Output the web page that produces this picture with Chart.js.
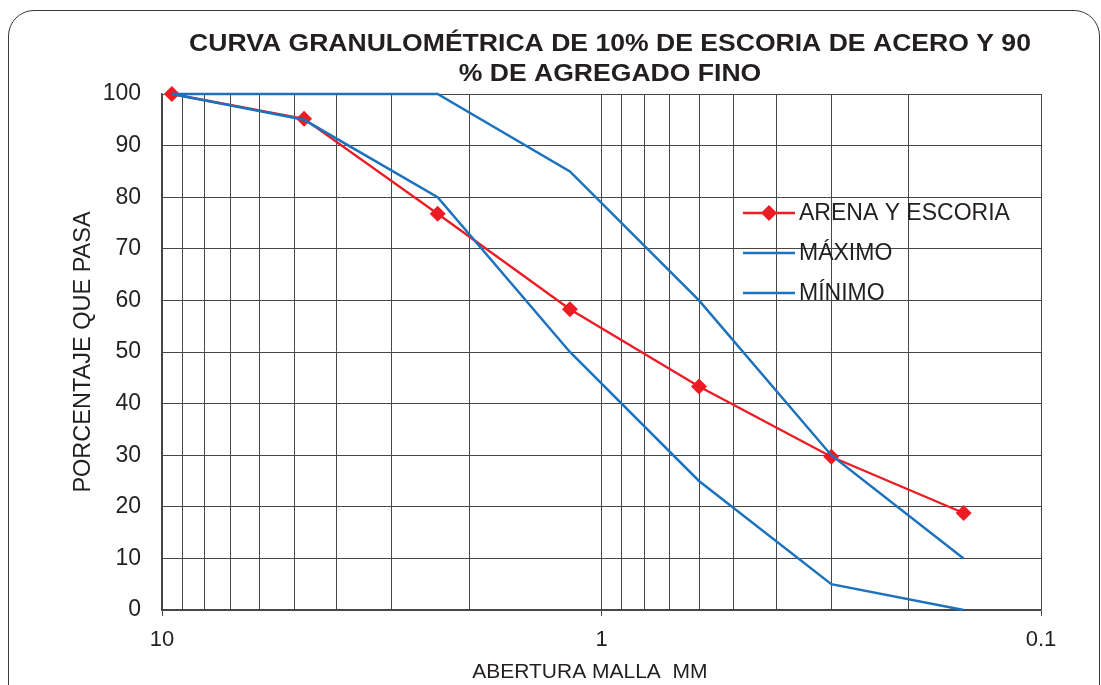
<!DOCTYPE html>
<html lang="es">
<head>
<meta charset="utf-8">
<title>Curva granulométrica</title>
<script src="https://cdn.jsdelivr.net/npm/chart.js@4.4.1/dist/chart.umd.min.js"></script>
<style>
  html, body { margin: 0; padding: 0; background: #fff; overflow: hidden; }
  #wrap { position: relative; width: 1101px; height: 685px; }
  #frame {
    position: absolute; left: 8px; top: 10px; width: 1092px; height: 720px;
    border: 1.3px solid #3a3a3a; border-radius: 26px; box-sizing: border-box;
    pointer-events: none;
  }
  canvas { position: absolute; left: 0; top: 0; }
</style>
</head>
<body>
<div id="wrap">
  <div id="frame"></div>
  <canvas id="chart" width="1101" height="685"></canvas>
</div>
<script>
// Sieve openings (mm) and percent passing for each curve
const sieveSizes   = [9.5, 4.75, 2.36, 1.18, 0.6, 0.3, 0.15];
const arenaEscoria = [100, 95.2, 76.8, 58.3, 43.3, 29.7, 18.8];
const maximo       = [100, 100, 100, 85, 60, 30, 10];
const minimo       = [100, 95, 80, 50, 25, 5, 0];

// Axis ticks
const xMajorTicks = [10, 1, 0.1];
const xMinorMultipliers = [2, 3, 4, 5, 6, 7, 8, 9];
const yTicks = [0, 10, 20, 30, 40, 50, 60, 70, 80, 90, 100];

const titleLines = ['CURVA GRANULOMÉTRICA DE 10% DE ESCORIA DE ACERO Y 90', '% DE AGREGADO FINO'];
const seriesNames = ['ARENA Y ESCORIA', 'MÁXIMO', 'MÍNIMO'];

const FONT = '"Liberation Sans", Arial, Helvetica, sans-serif';
const RED = '#ec1c24';
const BLUE = '#1c72bc';
const GRID = '#474747';

const toPoints = vals => sieveSizes.map((s, i) => ({ x: s, y: vals[i] }));

// Full set of log gridline positions between 0.1 and 10
const xTickValues = [];
[0.1, 1].forEach(base => {
  xTickValues.push(base);
  xMinorMultipliers.forEach(m => xTickValues.push(+(base * m).toFixed(3)));
});
xTickValues.push(10);

const titlePlugin = {
  id: 'chartTitle',
  afterDraw(chart) {
    const ctx = chart.ctx;
    ctx.save();
    ctx.fillStyle = '#231f20';
    ctx.font = 'bold 23px ' + FONT;
    ctx.textAlign = 'center';
    ctx.textBaseline = 'middle';
    const cx = 610, ys = [45, 75], sx = 1.155;
    titleLines.forEach((t, i) => {
      ctx.save();
      ctx.translate(cx, ys[i]);
      ctx.scale(sx, 1);
      ctx.fillText(t, 0, 0);
      ctx.restore();
    });
    ctx.restore();
  }
};

const legendPlugin = {
  id: 'insideLegend',
  afterDraw(chart) {
    const ctx = chart.ctx;
    const x0 = 743, x1 = 795, ys = [213, 253, 293];
    ctx.save();
    ctx.font = '23px ' + FONT;
    ctx.textBaseline = 'middle';
    chart.data.datasets.forEach((ds, i) => {
      const y = ys[i];
      ctx.strokeStyle = ds.borderColor;
      ctx.lineWidth = ds.borderWidth;
      ctx.beginPath();
      ctx.moveTo(x0, y);
      ctx.lineTo(x1, y);
      ctx.stroke();
      if (ds.pointRadius > 0) {
        const r = ds.pointRadius, cx = (x0 + x1) / 2;
        ctx.fillStyle = ds.pointBackgroundColor;
        ctx.beginPath();
        ctx.moveTo(cx, y - r);
        ctx.lineTo(cx + r, y);
        ctx.lineTo(cx, y + r);
        ctx.lineTo(cx - r, y);
        ctx.closePath();
        ctx.fill();
      }
      ctx.fillStyle = '#231f20';
      ctx.fillText(ds.label, 799, y + 1);
    });
    ctx.restore();
  }
};

new Chart(document.getElementById('chart'), {
  type: 'line',
  data: {
    datasets: [
      {
        label: seriesNames[0],
        data: toPoints(arenaEscoria),
        borderColor: RED,
        backgroundColor: RED,
        pointBackgroundColor: RED,
        pointBorderColor: RED,
        borderWidth: 2.4,
        pointStyle: 'rectRot',
        pointRadius: 8,
        pointBorderWidth: 0,
        tension: 0,
        clip: false,
        order: 2
      },
      {
        label: seriesNames[1],
        data: toPoints(maximo),
        borderColor: BLUE,
        backgroundColor: BLUE,
        borderWidth: 2.5,
        pointRadius: 0,
        tension: 0,
        clip: false,
        order: 1
      },
      {
        label: seriesNames[2],
        data: toPoints(minimo),
        borderColor: BLUE,
        backgroundColor: BLUE,
        borderWidth: 2.5,
        pointRadius: 0,
        tension: 0,
        clip: false,
        order: 1
      }
    ]
  },
  options: {
    responsive: false,
    animation: false,
    events: [],
    layout: { padding: { left: 69, right: 60, top: 94, bottom: 0 } },
    plugins: {
      legend: { display: false },
      title: { display: false },
      tooltip: { enabled: false }
    },
    scales: {
      x: {
        type: 'logarithmic',
        reverse: true,
        min: 0.1,
        max: 10,
        afterBuildTicks(scale) {
          scale.ticks = xTickValues.map(v => ({ value: v, major: xMajorTicks.includes(v) }));
        },
        afterFit(scale) { scale.height = 75; },
        ticks: {
          autoSkip: false,
          maxRotation: 0,
          padding: 11,
          color: '#231f20',
          font: { family: FONT, size: 22 },
          callback(value) {
            const i = xMajorTicks.indexOf(value);
            return i >= 0 ? String(xMajorTicks[i]) : '';
          }
        },
        grid: {
          color: GRID,
          lineWidth: 1,
          drawTicks: true,
          tickLength: 6,
          tickColor: ctx => (ctx.tick && ctx.tick.major ? GRID : 'rgba(0,0,0,0)')
        },
        border: { display: true, color: GRID, width: 1.5 },
        title: {
          display: true,
          text: 'ABERTURA MALLA  MM    ',
          color: '#231f20',
          font: { family: FONT, size: 21 },
          padding: { top: 0, bottom: 0 }
        }
      },
      y: {
        type: 'linear',
        min: 0,
        max: 100,
        afterBuildTicks(scale) {
          scale.ticks = yTicks.map(v => ({ value: v }));
        },
        afterFit(scale) { scale.width = 93; },
        ticks: {
          padding: 21,
          color: '#231f20',
          font: { family: FONT, size: 23 }
        },
        grid: { color: GRID, lineWidth: 1, drawTicks: false },
        border: { display: true, color: GRID, width: 1.5 },
        title: {
          display: true,
          text: 'PORCENTAJE QUE PASA',
          color: '#231f20',
          font: { family: FONT, size: 23.5 },
          padding: { top: 0, bottom: 0 }
        }
      }
    }
  },
  plugins: [titlePlugin, legendPlugin]
});
</script>
</body>
</html>
